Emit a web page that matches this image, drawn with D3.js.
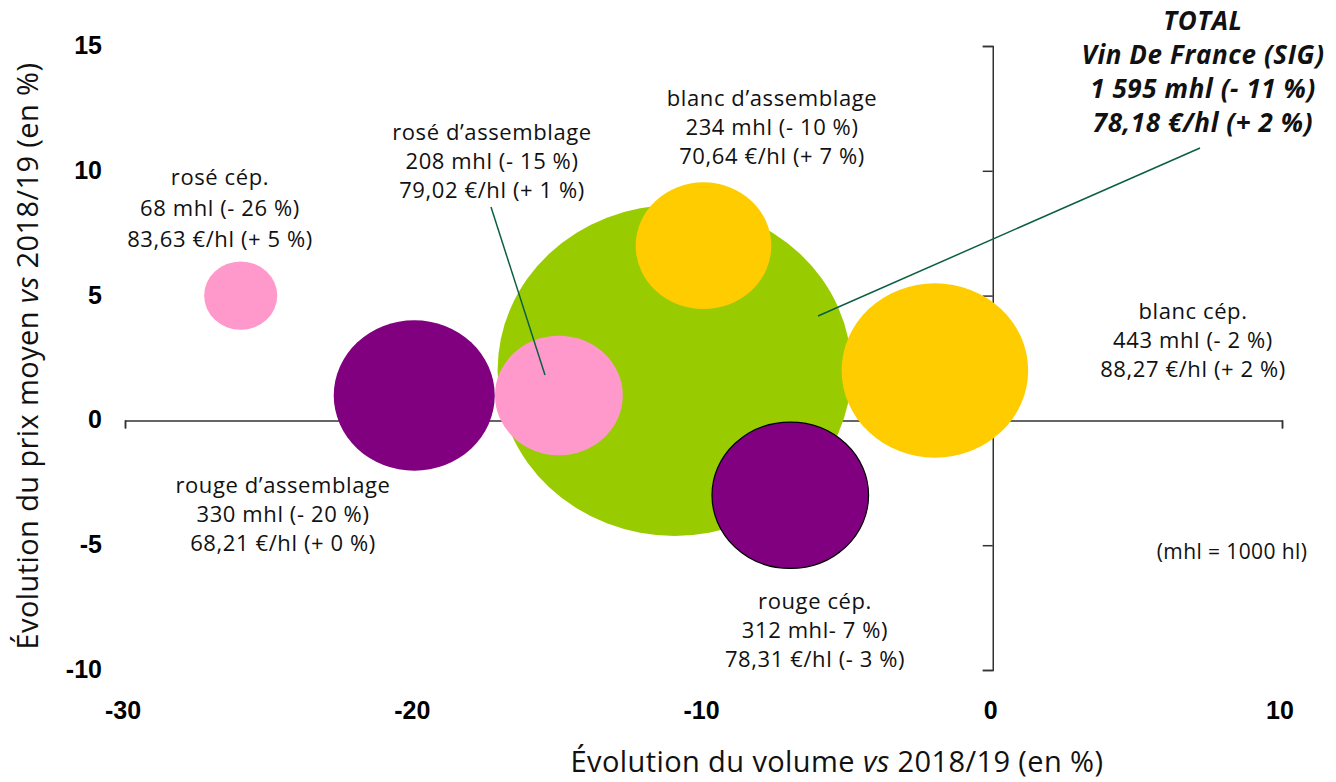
<!DOCTYPE html>
<html>
<head>
<meta charset="utf-8">
<script src="https://cdn.jsdelivr.net/npm/d3@7"></script>
<style>
  body { margin: 0; background: #fff; }
  svg { display: block; }
  .lbl { font-family: "Open Sans", Lato, sans-serif; font-size: 22px; letter-spacing: 0.6px; fill: #111; }
  .tick text { font-family: "Liberation Sans", Arial, sans-serif; font-weight: bold; font-size: 25px; fill: #000; }
</style>
</head>
<body>
<div id="chart"></div>
<script>
// data
const names = ['total', 'blanc cép.', 'rouge d’assemblage', 'rouge cép.', 'blanc d’assemblage', 'rosé d’assemblage', 'rosé cép.']
const volumeChange = [-11, -2, -20, -7, -10, -15, -26]
const priceChange = [2, 2, 1, -3, 7, 1, 5]
const volumes = [1595, 443, 330, 312, 234, 208, 68]
const colors = ['#99cc00', '#ffcc00', '#800080', '#800080', '#ffcc00', '#ff99cc', '#ff99cc']
const xTicks = [-30, -20, -10, 0, 10]
const yTicks = [-10, -5, 0, 5, 10, 15]

const labels = [
  ['TOTAL', 'Vin De France (SIG)', '1 595 mhl (- 11 %)', '78,18 €/hl (+ 2 %)'],
  ['blanc cép.', '443 mhl (- 2 %)', '88,27 €/hl (+ 2 %)'],
  ['rouge d’assemblage', '330 mhl (- 20 %)', '68,21 €/hl (+ 0 %)'],
  ['rouge cép.', '312 mhl- 7 %)', '78,31 €/hl (- 3 %)'],
  ['blanc  d’assemblage', '234 mhl (- 10 %)', '70,64 €/hl (+ 7 %)'],
  ['rosé d’assemblage', '208 mhl (- 15 %)', '79,02  €/hl (+ 1 %)'],
  ['rosé cép.', '68 mhl (- 26 %)', '83,63 €/hl (+ 5 %)']
]

const width = 1336
const height = 782

const svg = d3.select('#chart').append('svg')
  .attr('width', width)
  .attr('height', height)

const x = d3.scaleLinear().domain([-30, 10]).range([125, 1282])
const y = d3.scaleLinear().domain([-10, 15]).range([670, 46])
const r = d3.scaleSqrt().domain([0, 1595]).range([0, 177])

const xAxis = d3.axisBottom(x).tickValues(xTicks).tickSize(8).tickFormat(d => '')
const yAxis = d3.axisLeft(y).tickValues(yTicks).tickSize(10).tickFormat(d => '')

svg.append('g')
  .attr('transform', `translate(0,${y(0)})`)
  .call(xAxis)
  .call(g => g.select('.domain').attr('stroke', '#333').attr('stroke-width', 1.5))
  .call(g => g.selectAll('.tick line').attr('stroke', '#333').attr('stroke-width', 1.5))

svg.append('g')
  .attr('transform', `translate(${x(0)},0)`)
  .call(yAxis)
  .call(g => g.select('.domain').attr('stroke', '#333').attr('stroke-width', 1.5))
  .call(g => g.selectAll('.tick line').attr('stroke', '#333').attr('stroke-width', 1.5))

// tick labels sit at the edges of the plot, not on the axes
svg.append('g').attr('class', 'tick')
  .selectAll('text')
  .data(xTicks)
  .enter()
  .append('text')
  .attr('x', d => x(d) - 2)
  .attr('y', 719)
  .attr('text-anchor', 'middle')
  .text(d => d)

svg.append('g').attr('class', 'tick')
  .selectAll('text')
  .data(yTicks)
  .enter()
  .append('text')
  .attr('x', 102)
  .attr('y', d => y(d) + 8)
  .attr('text-anchor', 'end')
  .text(d => d)

// bubbles, biggest first
const idx = d3.range(names.length).sort((a, b) => volumes[b] - volumes[a])
svg.append('g')
  .selectAll('ellipse')
  .data(idx)
  .enter()
  .append('ellipse')
  .attr('cx', i => x(volumeChange[i]))
  .attr('cy', i => y(priceChange[i]))
  .attr('rx', i => r(volumes[i]))
  .attr('ry', i => r(volumes[i]) / 1.07)
  .attr('fill', i => colors[i])
  .attr('stroke', i => names[i] === 'rouge cép.' ? '#000' : 'none')
  .attr('stroke-width', 1.2)

// leader lines
const leaders = [
  [[1200, 148], [818, 316]],
  [[491, 207], [545, 375]]
]
svg.append('g')
  .selectAll('line')
  .data(leaders)
  .enter()
  .append('line')
  .attr('x1', d => d[0][0]).attr('y1', d => d[0][1])
  .attr('x2', d => d[1][0]).attr('y2', d => d[1][1])
  .attr('stroke', '#0b5e45')
  .attr('stroke-width', 1.5)

// label anchors: [centre x, first baseline, line gap]
const labelAt = [
  [1203, 30, 34],
  [1193, 319, 29],
  [283, 493, 29],
  [815, 609, 29],
  [772, 106, 29],
  [492, 140, 29],
  [220, 185, 31]
]

labels.forEach((lines, i) => {
  const [cx, top, gap] = labelAt[i]
  const t = svg.append('text')
    .attr('class', 'lbl')
    .attr('text-anchor', 'middle')
  if (i === 0) t.style('font-size', '26px').style('font-weight', 'bold').style('font-style', 'italic').style('letter-spacing', '0.6px')
  lines.forEach((s, j) => {
    t.append('tspan').attr('x', cx).attr('y', top + j * gap).text(s)
  })
})

svg.append('text')
  .attr('class', 'lbl')
  .attr('x', 1232).attr('y', 559)
  .attr('text-anchor', 'middle')
  .style('font-size', '21px')
  .style('letter-spacing', '0.4px')
  .text('(mhl = 1000 hl)')

// axis titles
const xt = svg.append('text')
  .attr('class', 'lbl')
  .attr('x', 837).attr('y', 772)
  .attr('text-anchor', 'middle')
  .style('font-size', '29px')
  .style('letter-spacing', '0.4px')
xt.append('tspan').text('Évolution du volume ')
xt.append('tspan').style('font-style', 'italic').text('vs')
xt.append('tspan').text(' 2018/19 (en %)')

const yt = svg.append('text')
  .attr('class', 'lbl')
  .attr('transform', 'translate(38,356) rotate(-90)')
  .attr('text-anchor', 'middle')
  .style('font-size', '29px')
  .style('letter-spacing', '0.4px')
yt.append('tspan').text('Évolution du prix moyen ')
yt.append('tspan').style('font-style', 'italic').text('vs')
yt.append('tspan').text(' 2018/19 (en %)')
</script>
</body>
</html>
